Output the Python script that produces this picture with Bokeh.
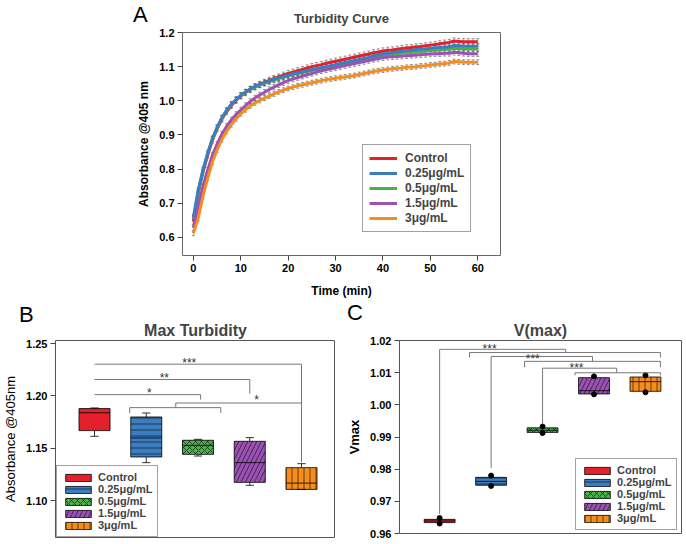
from bokeh.plotting import figure
from bokeh.models import (ColumnDataSource, Whisker, TeeHead, Legend, LegendItem,
                          Label, Div, Range1d, FixedTicker, NumeralTickFormatter)
from bokeh.layouts import column, row
from bokeh.embed import file_html
from bokeh.resources import INLINE

FONT = "Liberation Sans"

# ---------------- data ----------------
groups = ["Control", "0.25\u03bcg/mL", "0.5\u03bcg/mL", "1.5\u03bcg/mL", "3\u03bcg/mL"]
colors = ["#e3202b", "#3b7dc0", "#4bb04c", "#9b52b4", "#f48c1e"]
hatches = [" ", "-", "x", "/", "|"]

time_min = list(range(61))
control = [0.648, 0.728, 0.790, 0.840, 0.884, 0.918, 0.946, 0.968, 0.986, 1.001,
           1.014, 1.024, 1.033, 1.041, 1.048, 1.054, 1.060, 1.065, 1.070, 1.075,
           1.080, 1.084, 1.088, 1.092, 1.096, 1.100, 1.103, 1.106, 1.110, 1.113,
           1.116, 1.119, 1.122, 1.125, 1.128, 1.131, 1.134, 1.137, 1.141, 1.143,
           1.146, 1.148, 1.149, 1.151, 1.153, 1.155, 1.156, 1.158, 1.159, 1.161,
           1.163, 1.165, 1.167, 1.169, 1.171, 1.175, 1.174, 1.173, 1.173, 1.173, 1.173]
dose_025 = [0.659, 0.737, 0.797, 0.846, 0.889, 0.922, 0.950, 0.972, 0.990, 1.004,
            1.016, 1.026, 1.035, 1.042, 1.048, 1.053, 1.058, 1.063, 1.067, 1.071,
            1.075, 1.079, 1.082, 1.085, 1.088, 1.091, 1.094, 1.097, 1.100, 1.103,
            1.106, 1.109, 1.112, 1.115, 1.118, 1.121, 1.124, 1.127, 1.131, 1.134,
            1.137, 1.139, 1.141, 1.143, 1.145, 1.147, 1.148, 1.150, 1.151, 1.152,
            1.154, 1.155, 1.156, 1.157, 1.158, 1.162, 1.161, 1.160, 1.160, 1.160, 1.160]
dose_05 = [0.655, 0.734, 0.795, 0.845, 0.888, 0.921, 0.949, 0.971, 0.989, 1.003,
           1.015, 1.025, 1.033, 1.040, 1.046, 1.051, 1.056, 1.061, 1.065, 1.069,
           1.073, 1.077, 1.080, 1.083, 1.086, 1.089, 1.092, 1.095, 1.098, 1.100,
           1.103, 1.106, 1.109, 1.112, 1.115, 1.118, 1.121, 1.124, 1.127, 1.130,
           1.133, 1.135, 1.137, 1.138, 1.140, 1.141, 1.142, 1.143, 1.144, 1.146,
           1.147, 1.148, 1.149, 1.150, 1.151, 1.154, 1.153, 1.152, 1.152, 1.152, 1.152]
dose_15 = [0.628, 0.690, 0.748, 0.797, 0.840, 0.873, 0.902, 0.925, 0.944, 0.960,
           0.973, 0.986, 0.998, 1.008, 1.017, 1.025, 1.033, 1.040, 1.047, 1.053,
           1.059, 1.064, 1.068, 1.072, 1.076, 1.080, 1.084, 1.088, 1.091, 1.094,
           1.097, 1.100, 1.103, 1.106, 1.109, 1.112, 1.115, 1.118, 1.121, 1.124,
           1.126, 1.128, 1.129, 1.130, 1.131, 1.132, 1.133, 1.134, 1.135, 1.136,
           1.137, 1.138, 1.138, 1.139, 1.139, 1.142, 1.141, 1.139, 1.138, 1.138, 1.138]
dose_3 = [0.612, 0.656, 0.720, 0.773, 0.820, 0.856, 0.886, 0.910, 0.930, 0.947,
          0.962, 0.974, 0.985, 0.994, 1.001, 1.008, 1.014, 1.020, 1.026, 1.031,
          1.036, 1.040, 1.044, 1.047, 1.050, 1.053, 1.056, 1.059, 1.062, 1.064,
          1.066, 1.068, 1.070, 1.072, 1.074, 1.077, 1.080, 1.083, 1.086, 1.088,
          1.090, 1.092, 1.094, 1.095, 1.096, 1.098, 1.099, 1.100, 1.102, 1.103,
          1.105, 1.106, 1.108, 1.109, 1.111, 1.115, 1.114, 1.113, 1.113, 1.113, 1.113]
curve_sem = [0.009, 0.008, 0.008, 0.008, 0.007]

# Max turbidity (panel B) box statistics
b_low = [1.1616, 1.1365, 1.1428, 1.1149, 1.1110]
b_q1 = [1.1670, 1.1419, 1.1444, 1.1177, 1.1110]
b_med = [1.1840, 1.1600, 1.1530, 1.1365, 1.1170]
b_q3 = [1.1880, 1.1800, 1.1578, 1.1568, 1.1317]
b_high = [1.1886, 1.1838, 1.1587, 1.1603, 1.1355]

# Vmax (panel C) box statistics
c_low = [0.9631, 0.9748, 0.99123, 1.00328, 1.0039]
c_q1 = [0.9634, 0.9750, 0.99143, 1.00338, 1.0042]
c_med = [0.9639, 0.9762, 0.99210, 1.00440, 1.0072]
c_q3 = [0.9644, 0.97745, 0.99285, 1.00845, 1.00865]
c_high = [0.9648, 0.9780, 0.99325, 1.00885, 1.0092]

curves = [control, dose_025, dose_05, dose_15, dose_3]
panel_letters = ["A", "B", "C"]


def style_axis(ax, size="11px"):
    ax.major_label_text_font = FONT
    ax.major_label_text_font_style = "bold"
    ax.major_label_text_font_size = size
    ax.major_label_text_color = "black"
    ax.axis_label_text_font = FONT
    ax.axis_label_text_color = "black"
    ax.axis_line_color = None
    ax.major_tick_line_color = "#444"
    ax.major_tick_out = 5
    ax.major_tick_in = 0
    ax.minor_tick_line_color = None


def letter_div(txt, left, top):
    return Div(text=txt, width=24, height=28,
               styles={"position": "absolute", "left": f"{left}px", "top": f"{top}px",
                       "font-family": FONT, "font-size": "22px", "line-height": "normal",
                       "color": "black", "z-index": "10", "margin": "0", "padding": "0"})


# ---------------- panel A ----------------
pA = figure(frame_width=318, frame_height=223, min_border_left=182, min_border_right=186,
            min_border_top=32, min_border_bottom=45,
            x_range=Range1d(-2.3, 64.8), y_range=Range1d(0.547, 1.2),
            output_backend="svg", toolbar_location=None, title="Turbidity Curve")
pA.title.align = "center"
pA.title.text_font = FONT
pA.title.text_font_size = "13px"
pA.title.text_font_style = "bold"
pA.title.standoff = 14
pA.xgrid.visible = False
pA.ygrid.visible = False
pA.outline_line_color = "#666"
pA.xaxis.ticker = FixedTicker(ticks=[0, 10, 20, 30, 40, 50, 60])
pA.yaxis.ticker = FixedTicker(ticks=[0.6, 0.7, 0.8, 0.9, 1.0, 1.1, 1.2])
pA.yaxis.formatter = NumeralTickFormatter(format="0.0")
pA.xaxis.axis_label = "Time (min)"
pA.yaxis.axis_label = "Absorbance @405 nm"
for ax in (pA.xaxis[0], pA.yaxis[0]):
    style_axis(ax)
    ax.axis_label_text_font_size = "12px"
    ax.axis_label_text_font_style = "bold"
    ax.major_label_standoff = 3
pA.xaxis.axis_label_standoff = 9
pA.yaxis.axis_label_standoff = 5

for name, vals, col, sem in zip(groups, curves, colors, curve_sem):
    src = ColumnDataSource(dict(t=time_min, y=vals,
                                up=[v + sem for v in vals], lo=[v - sem for v in vals]))
    w = Whisker(source=src, base="t", upper="up", lower="lo", dimension="height",
                line_color="#555", line_width=0.6, line_alpha=0.8,
                upper_head=TeeHead(size=3, line_color="#555", line_width=0.6),
                lower_head=TeeHead(size=3, line_color="#555", line_width=0.6))
    pA.add_layout(w)
line_renderers = []
for idx in [0, 2, 1, 3, 4]:
    src = ColumnDataSource(dict(t=time_min, y=curves[idx]))
    r = pA.line("t", "y", source=src, line_color=colors[idx], line_width=3)
    line_renderers.append((idx, r))
line_renderers.sort(key=lambda item: item[0])
legA = Legend(items=[LegendItem(label=groups[i], renderers=[r]) for i, r in line_renderers],
              location=(180, 23), border_line_color="#444", border_line_width=1,
              background_fill_alpha=1, label_text_font=FONT, label_text_font_size="12px",
              label_text_font_style="bold", glyph_width=28, glyph_height=14,
              label_height=14, label_standoff=8, spacing=1, padding=6, margin=0)
pA.add_layout(legA)


# ---------------- box panels ----------------
def box_panel(title, low, q1, med, q3, high, x_rng, y_rng, ticks, frame_w, frame_h,
              border_left, border_right, ylabel, ylabel_style, dots):
    p = figure(frame_width=frame_w, frame_height=frame_h, min_border_left=border_left,
               min_border_right=border_right, min_border_top=40, min_border_bottom=7,
               x_range=Range1d(*x_rng), y_range=Range1d(*y_rng), x_axis_location=None,
               output_backend="svg", toolbar_location=None, title=title)
    p.title.align = "center"
    p.title.text_font = FONT
    p.title.text_font_size = "16px"
    p.title.text_font_style = "bold"
    p.title.standoff = 4
    p.xgrid.visible = False
    p.ygrid.visible = False
    p.outline_line_color = "#555"
    p.yaxis.ticker = FixedTicker(ticks=ticks)
    p.yaxis.formatter = NumeralTickFormatter(format="0.00")
    p.yaxis.axis_label = ylabel
    style_axis(p.yaxis[0])
    p.yaxis.axis_label_text_font_size = "13px"
    p.yaxis.axis_label_text_font_style = ylabel_style
    p.yaxis.major_label_standoff = 3
    p.yaxis.axis_label_standoff = 5

    xs = [1, 2, 3, 4, 5]
    src = ColumnDataSource(dict(x=xs, q1=q1, q3=q3, color=colors, hatch=hatches,
                                hscale=[6, 6, 6, 9, 6]))
    p.segment(x0=xs, y0=q3, x1=xs, y1=high, line_color="black", line_width=0.8)
    p.segment(x0=xs, y0=low, x1=xs, y1=q1, line_color="black", line_width=0.8)
    boxes = p.vbar(x="x", width=0.6, top="q3", bottom="q1", source=src,
                   fill_color="color", line_color="black", line_width=0.8,
                   hatch_pattern="hatch", hatch_color="black", hatch_scale="hscale",
                   hatch_weight=0.7, hatch_alpha=0.8)
    p.segment(x0=[x - 0.3 for x in xs], y0=med, x1=[x + 0.3 for x in xs], y1=med,
              line_color="black", line_width=0.8)
    if dots:
        p.scatter(x=xs + xs, y=low + high, size=5, color="black")
    else:
        p.segment(x0=[x - 0.08 for x in xs], y0=high, x1=[x + 0.08 for x in xs], y1=high,
                  line_color="black", line_width=0.8)
        p.segment(x0=[x - 0.08 for x in xs], y0=low, x1=[x + 0.08 for x in xs], y1=low,
                  line_color="black", line_width=0.8)
    leg = Legend(items=[LegendItem(label=g, renderers=[boxes], index=i)
                        for i, g in enumerate(groups)],
                 border_line_color="#444", border_line_width=1, background_fill_alpha=1,
                 label_text_font=FONT, label_text_font_size="11px",
                 label_text_font_style="bold", glyph_width=32, glyph_height=9,
                 label_height=12, label_standoff=4, spacing=0, padding=5, margin=0)
    p.add_layout(leg)
    return p, leg


def brackets(p, paths, stars):
    p.multi_line(xs=[[pt[0] for pt in path] for path in paths],
                 ys=[[pt[1] for pt in path] for path in paths],
                 line_color="#777", line_width=1)
    for txt, x, y in stars:
        p.add_layout(Label(x=x, y=y, text=txt, text_font=FONT, text_font_size="12px",
                           text_color="#333", text_align="center", text_baseline="middle"))


pB, legB = box_panel("Max Turbidity", b_low, b_q1, b_med, b_q3, b_high,
                     (0.246, 5.657), (1.06517, 1.25286), [1.10, 1.15, 1.20, 1.25],
                     280, 197, 53, 0, "Absorbance @405nm", "normal", False)
legB.location = (1, 0)
brackets(pB,
         [[(1, 1.2303), (5, 1.2303), (5, 1.1368)],
          [(1, 1.2157), (4, 1.2157), (4, 1.2023)],
          [(1, 1.2013), (3.05, 1.2013), (3.05, 1.1966)],
          [(1.68, 1.1838), (1.68, 1.1889), (3.44, 1.1889), (3.44, 1.1838)],
          [(2.57, 1.1889), (2.57, 1.1933), (5, 1.1933)]],
         [("***", 2.83, 1.2317), ("**", 2.35, 1.2168), ("*", 2.06, 1.2024), ("*", 4.13, 1.196)])

pC, legC = box_panel("V(max)", c_low, c_q1, c_med, c_q3, c_high,
                     (0.22, 5.70), (0.96, 1.02), [0.96, 0.97, 0.98, 0.99, 1.00, 1.01, 1.02],
                     282, 193, 64, 7, "Vmax", "bold", True)
legC.location = (176, 3)
brackets(pC,
         [[(1, 0.9661), (1, 1.01726), (3.45, 1.01726), (3.45, 1.01625)],
          [(1.58, 1.01473), (1.58, 1.01625), (5.29, 1.01625), (5.29, 1.01473)],
          [(2, 0.9803), (2, 1.01504), (3.97, 1.01504), (3.97, 1.01352)],
          [(2.65, 1.01169), (2.65, 1.01352), (5.29, 1.01352), (5.29, 1.01169)],
          [(3, 0.99396), (3, 1.01139), (4.44, 1.01139), (4.44, 1.00997)],
          [(3.63, 1.00916), (3.63, 1.00997), (5.29, 1.00997), (5.29, 1.00916)]],
         [("***", 1.97, 1.0174), ("***", 2.81, 1.0143), ("***", 3.66, 1.0115)])

letters = [letter_div(panel_letters[0], 133, 2),
           letter_div(panel_letters[1], 19, 302),
           letter_div(panel_letters[2], 347, 300)]

layout = column(pA, row(pB, pC), *letters)
open("out.html", "w").write(file_html(layout, INLINE))
